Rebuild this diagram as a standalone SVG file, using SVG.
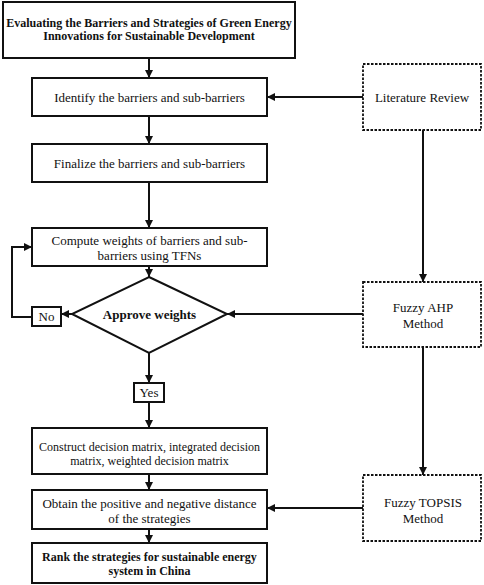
<svg xmlns="http://www.w3.org/2000/svg" width="484" height="585" viewBox="0 0 484 585">
<style>
.box{fill:#fff;stroke:#111;stroke-width:2}
.dot{fill:#fff;stroke:#111;stroke-width:1.8;stroke-dasharray:2.5 1.5}
.t{font-family:"Liberation Serif","Times New Roman",serif;font-size:13px;fill:#111;text-anchor:middle}
.b{font-family:"Liberation Serif","Times New Roman",serif;font-size:12px;font-weight:bold;fill:#111;text-anchor:middle}
.c{fill:none;stroke:#111;stroke-width:2}
</style>
<defs>
<marker id="ah" viewBox="0 0 10 10" refX="10" refY="5" markerWidth="9" markerHeight="8" markerUnits="userSpaceOnUse" orient="auto">
<path d="M0,0 L10,5 L0,10 z" fill="#111"/>
</marker>
</defs>
<g id="connectors">
<line class="c" x1="149" y1="58" x2="149" y2="78" marker-end="url(#ah)"/>
<line class="c" x1="149" y1="116" x2="149" y2="144" marker-end="url(#ah)"/>
<line class="c" x1="149" y1="182" x2="149" y2="228" marker-end="url(#ah)"/>
<line class="c" x1="149" y1="266" x2="149" y2="277" marker-end="url(#ah)"/>
<line class="c" x1="72" y1="314" x2="61" y2="314" marker-end="url(#ah)"/>
<polyline class="c" points="32,317 12,317 12,247 32,247" marker-end="url(#ah)"/>
<line class="c" x1="149" y1="353" x2="149" y2="383" marker-end="url(#ah)"/>
<line class="c" x1="149" y1="402" x2="149" y2="428" marker-end="url(#ah)"/>
<line class="c" x1="149" y1="474" x2="149" y2="490" marker-end="url(#ah)"/>
<line class="c" x1="149" y1="529" x2="149" y2="543" marker-end="url(#ah)"/>
<line class="c" x1="363" y1="97" x2="267" y2="97" marker-end="url(#ah)"/>
<line class="c" x1="423" y1="130" x2="423" y2="282" marker-end="url(#ah)"/>
<line class="c" x1="363" y1="314" x2="227" y2="314" marker-end="url(#ah)"/>
<line class="c" x1="423" y1="347" x2="423" y2="475" marker-end="url(#ah)"/>
<line class="c" x1="363" y1="508" x2="267" y2="508" marker-end="url(#ah)"/>
</g>
<g id="title">
<rect class="box" x="3" y="2" width="292" height="56"/>
<text class="b" x="149" y="27">Evaluating the Barriers and Strategies of Green Energy</text>
<text class="b" x="149" y="40">Innovations for Sustainable Development</text>
</g>
<g id="identify">
<rect class="box" x="32" y="78" width="235" height="38"/>
<text class="t" x="149.5" y="101.5">Identify the barriers and sub-barriers</text>
</g>
<g id="finalize">
<rect class="box" x="32" y="144" width="235" height="38"/>
<text class="t" x="149.5" y="167.5">Finalize the barriers and sub-barriers</text>
</g>
<g id="compute">
<rect class="box" x="32" y="228" width="235" height="38"/>
<text class="t" x="149.5" y="244.5">Compute weights of barriers and sub-</text>
<text class="t" x="149.5" y="259.5">barriers using TFNs</text>
</g>
<g id="approve">
<polygon class="box" points="149,277 227,314 149,353 72,314"/>
<text class="b" x="149.5" y="318.5" style="font-size:13px">Approve weights</text>
</g>
<g id="no">
<rect class="box" x="32" y="307" width="29" height="19"/>
<text class="t" x="46.5" y="321">No</text>
</g>
<g id="yes">
<rect class="box" x="134" y="383" width="30" height="19"/>
<text class="t" x="149" y="397">Yes</text>
</g>
<g id="construct">
<rect class="box" x="32" y="428" width="235" height="46"/>
<text class="t" x="149.5" y="450.5" style="font-size:12px">Construct decision matrix, integrated decision</text>
<text class="t" x="149.5" y="464.5" style="font-size:12px">matrix, weighted decision matrix</text>
</g>
<g id="obtain">
<rect class="box" x="32" y="490" width="235" height="39"/>
<text class="t" x="149.5" y="507.5">Obtain the positive and negative distance</text>
<text class="t" x="149.5" y="522.5">of the strategies</text>
</g>
<g id="rank">
<rect class="box" x="32" y="543" width="235" height="40"/>
<text class="b" x="149.5" y="561">Rank the strategies for sustainable energy</text>
<text class="b" x="149.5" y="575">system in China</text>
</g>
<g id="literature">
<rect class="dot" x="363" y="64" width="118" height="66"/>
<text class="t" x="422" y="101.5">Literature Review</text>
</g>
<g id="ahp">
<rect class="dot" x="363" y="282" width="118" height="65"/>
<text class="t" x="423" y="311.5">Fuzzy AHP</text>
<text class="t" x="423" y="327.5">Method</text>
</g>
<g id="topsis">
<rect class="dot" x="363" y="475" width="118" height="66"/>
<text class="t" x="423" y="506.5">Fuzzy TOPSIS</text>
<text class="t" x="423" y="522.5">Method</text>
</g>
</svg>
